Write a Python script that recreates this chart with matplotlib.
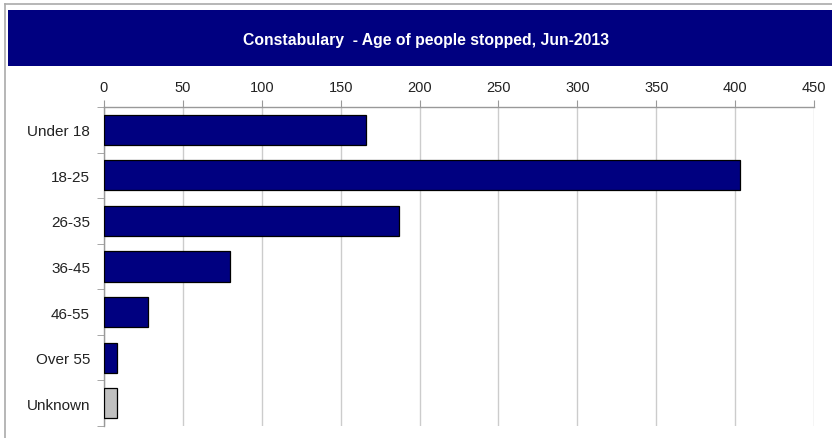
import matplotlib.pyplot as plt
from matplotlib.patches import Rectangle
from matplotlib.lines import Line2D
import numpy as np

categories = ['Under 18', '18-25', '26-35', '36-45', '46-55', 'Over 55', 'Unknown']
values = [166, 403, 187, 80, 28, 8, 8]
colors = ['#000080'] * 6 + ['#C0C0C0']
xticks = [0, 50, 100, 150, 200, 250, 300, 350, 400, 450]
title = 'Constabulary  - Age of people stopped, Jun-2013'

plt.rcParams['font.family'] = ['Liberation Sans', 'DejaVu Sans']

W, H = 832, 439
fig = plt.figure(figsize=(W / 100, H / 100), dpi=100)

# outer border and title band
fig.add_artist(Line2D([5 / W, 5 / W], [0, 1 - 5 / H], color='#aaaaaa', lw=1.2))
fig.add_artist(Line2D([5 / W, 1], [1 - 5 / H, 1 - 5 / H], color='#aaaaaa', lw=1.2))
fig.add_artist(Rectangle((8 / W, 1 - 67 / H), 1, 56 / H, color='#000080', lw=0))
fig.text(426 / W, 1 - 40 / H, title, color='white', fontsize=11.3,
         fontweight='bold', ha='center', va='center')

ax = fig.add_axes([104 / W, 12 / H, 710 / W, 319 / H])
y = np.arange(len(categories))
ax.barh(y, values, height=0.66, color=colors, edgecolor='black', linewidth=0.9, zorder=3)
ax.set_ylim(len(categories) - 0.5, -0.5)
ax.set_xlim(0, 450)
ax.set_yticks(y)
ax.set_yticklabels(categories)
ax.set_yticks(np.arange(-0.5, len(categories), 1), minor=True)
ax.tick_params(axis='y', which='major', length=0, pad=10, labelsize=11, labelcolor='#222222')
ax.tick_params(axis='y', which='minor', length=5, color='#999999', direction='out')
ax.xaxis.tick_top()
ax.set_xticks(xticks)
ax.tick_params(axis='x', length=5, color='#999999', labelsize=10.5, labelcolor='#222222', pad=4)
ax.grid(axis='x', color='#cccccc', lw=1, zorder=0)
for s in ['right', 'bottom']:
    ax.spines[s].set_visible(False)
for s in ['left', 'top']:
    ax.spines[s].set_color('#999999')
    ax.spines[s].set_linewidth(1)

fig.savefig('out.png', dpi=100)
